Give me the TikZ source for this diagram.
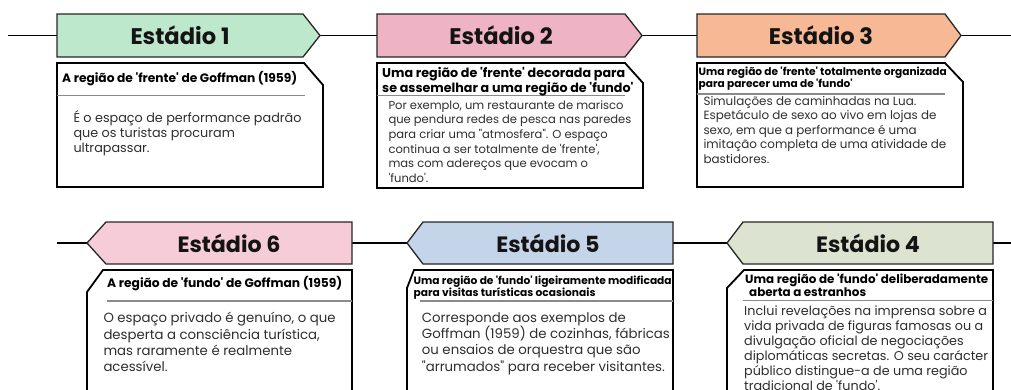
\documentclass[tikz,border=0pt]{standalone}
\usepackage{fontspec}
\setmainfont{Poppins}[Ligatures=TeXOff]
\definecolor{cgreen}{HTML}{BDE8CB}
\definecolor{cpink}{HTML}{EEB3C5}
\definecolor{cpeach}{HTML}{F7B995}
\definecolor{clpink}{HTML}{F6CCD8}
\definecolor{cblue}{HTML}{C4D4E9}
\definecolor{csage}{HTML}{DCE3D1}
\definecolor{csep}{HTML}{8A8A8A}
\definecolor{ctext}{HTML}{2E2E2E}
\newcommand\fl{\rule{0pt}{16pt}}
\newbox\fitbox
\newcommand\fitto[3]{\setbox\fitbox=\hbox{\fontsize{10pt}{10pt}\selectfont #2}%
  \pgfmathsetmacro\fitfs{10*#1/\wd\fitbox}\fontsize{\fitfs pt}{#3pt}\selectfont}
\tikzset{
  banner/.style={draw=black!85, line width=1.3pt, line join=miter},
  infobox/.style={draw=black, line width=1.8pt, fill=white, line join=miter},
  tline/.style={draw=black, line width=1.4pt},
  sepline/.style={draw=csep, line width=1.4pt},
  title/.style={inner sep=0pt, text=black!92},
  head/.style={inner sep=0pt, anchor=north west, align=left},
  body/.style={text=ctext, inner sep=0pt, anchor=north west, align=left},
}
\begin{document}
\begin{tikzpicture}[x=1pt,y=-1pt]
\useasboundingbox (0,0) rectangle (1011,389);
\clip (0,0) rectangle (1011,389);
% timeline coordinates
\coordinate (t0) at (8,35.5);
\coordinate (b1L) at (57,35.5);
\coordinate (b1R) at (320,35.5);
\coordinate (b2L) at (377,35.5);
\coordinate (b2R) at (642,35.5);
\coordinate (b3L) at (697,35.5);
\coordinate (b3R) at (961,35.5);
\coordinate (t9) at (1011,35.5);
\coordinate (u0) at (57,243);
\coordinate (b6L) at (87,243);
\coordinate (b6R) at (352,243);
\coordinate (b5L) at (407,243);
\coordinate (b5R) at (673,243);
\coordinate (b4L) at (727,243);
\coordinate (b4R) at (993,243);
\coordinate (u9) at (1011,243);
\draw[tline] (t0) -- (b1L) (b1R) -- (b2L) (b2R) -- (b3L) (b3R) -- (t9);
\draw[tline] (u0) -- (b6L) (b6R) -- (b5L) (b5R) -- (b4L) (b4R) -- (u9);
% banners
\draw[banner, fill=cgreen] (57,14) -- (303,14) -- (b1R) -- (303,57) -- (57,57) -- cycle;
\draw[banner, fill=cpink] (377,14) -- (625,14) -- (b2R) -- (625,57) -- (377,57) -- cycle;
\draw[banner, fill=cpeach] (697,14) -- (945,14) -- (b3R) -- (945,57) -- (697,57) -- cycle;
\draw[banner, fill=clpink] (106,222) -- (352,222) -- (352,264) -- (106,264) -- (b6L) -- cycle;
\draw[banner, fill=cblue] (423,222) -- (673,222) -- (673,264) -- (423,264) -- (b5L) -- cycle;
\draw[banner, fill=csage] (743,222) -- (993,222) -- (993,264) -- (743,264) -- (b4L) -- cycle;
\node[title, font={\bfseries\fitto{99}{Estádio 1}{24}}] (n1) at (180,35.5) {Estádio 1};
\node[title, font={\bfseries\fitto{99}{Estádio 1}{24}}] (n2) at (501,35.5) {Estádio 2};
\node[title, font={\bfseries\fitto{99}{Estádio 1}{24}}] (n3) at (821,35.5) {Estádio 3};
\node[title, font={\bfseries\fitto{103}{Estádio 6}{24}}] (n6) at (229,243) {Estádio 6};
\node[title, font={\bfseries\fitto{103}{Estádio 6}{24}}] (n5) at (548,243) {Estádio 5};
\node[title, font={\bfseries\fitto{103}{Estádio 6}{24}}] (n4) at (868,243) {Estádio 4};
% boxes
\draw[infobox] (57,63) -- (304,63) -- (323,85) -- (323,187) -- (57,187) -- cycle;
\draw[infobox] (377,63) -- (625,63) -- (643,83) -- (643,188) -- (377,188) -- cycle;
\draw[infobox] (697,63) -- (945,63) -- (963,82) -- (963,187) -- (697,187) -- cycle;
\draw[infobox] (103,270) -- (352,270) -- (352,400) -- (87,400) -- (87,292) -- cycle;
\draw[infobox] (414,270) -- (673,270) -- (673,400) -- (407,400) -- (407,288) -- cycle;
\draw[infobox] (744,270) -- (993,270) -- (993,400) -- (727,400) -- (727,288) -- cycle;
% separators
\draw[sepline] (57,95.5) -- (305,95.5);
\draw[sepline] (377,95.5) -- (625,95.5);
\draw[sepline] (697,94) -- (945,94);
\draw[sepline] (107,301) -- (352,301);
\draw[sepline] (420,301) -- (673,301);
\draw[sepline] (743,300.5) -- (993,300.5);
% headers
\node[head, font={\bfseries\fitto{235}{A região de 'frente' de Goffman (1959)}{12}}] (h1) at (62,82-16) {\fl A região de 'frente' de Goffman (1959)};
\node[head, font={\bfseries\fitto{243}{Uma região de 'frente' decorada para}{12}}] (h2) at (382,77.5-16) {\fl Uma região de 'frente' decorada para\\se assemelhar a uma região de 'fundo'};
\node[head, font={\bfseries\fitto{248}{Uma região de 'frente' totalmente organizada}{10.5}}] (h3) at (698.5,75-16) {\fl Uma região de 'frente' totalmente organizada\\para parecer uma de 'fundo'};
\node[head, font={\bfseries\fitto{235}{A região de 'fundo' de Goffman (1959)}{12}}] (h6) at (107,287-16) {\fl A região de 'fundo' de Goffman (1959)};
\node[head, font={\bfseries\fitto{258}{Uma região de 'fundo' ligeiramente modificada}{12.5}}] (h5) at (413.5,284-16) {\fl Uma região de 'fundo' ligeiramente modificada\\para visitas turísticas ocasionais};
\node[head, font={\bfseries\fitto{243}{Uma região de 'fundo' deliberadamente}{13}}] (h4) at (745,283-16) {\fl Uma região de 'fundo' deliberadamente\\\hspace{4pt}aberta a estranhos};
% bodies
\node[body, font={\fitto{228}{É o espaço de performance padrão}{15}}] (d1) at (73.3,122-16) {\fl É o espaço de performance padrão\\que os turistas procuram\\ultrapassar.};
\node[body, font={\fitto{235}{Por exemplo, um restaurante de marisco}{14.6}}] (d2) at (388.3,109-16) {\fl Por exemplo, um restaurante de marisco\\que pendura redes de pesca nas paredes\\para criar uma "atmosfera". O espaço\\continua a ser totalmente de 'frente',\\mas com adereços que evocam o\\'fundo'.};
\node[body, font={\fitto{233}{Espetáculo de sexo ao vivo em lojas de}{14.5}}] (d3) at (703.3,105-16) {\fl Simulações de caminhadas na Lua.\\Espetáculo de sexo ao vivo em lojas de\\sexo, em que a performance é uma\\imitação completa de uma atividade de\\bastidores.};
\node[body, font={\fitto{232}{O espaço privado é genuíno, o que}{16.3}}] (d6) at (103.3,322.5-16) {\fl O espaço privado é genuíno, o que\\desperta a consciência turística,\\mas raramente é realmente\\acessível.};
\node[body, font={\fitto{248}{Goffman (1959) de cozinhas, fábricas}{16.3}}] (d5) at (421.7,322-16) {\fl Corresponde aos exemplos de\\Goffman (1959) de cozinhas, fábricas\\ou ensaios de orquestra que são\\"arrumados" para receber visitantes.};
\node[body, font={\fitto{239}{vida privada de figuras famosas ou a}{14.9}}] (d4) at (744,315.5-16) {\fl Inclui revelações na imprensa sobre a\\vida privada de figuras famosas ou a\\divulgação oficial de negociações\\diplomáticas secretas. O seu carácter\\público distingue-a de uma região\\tradicional de 'fundo'.};
\end{tikzpicture}
\end{document}
